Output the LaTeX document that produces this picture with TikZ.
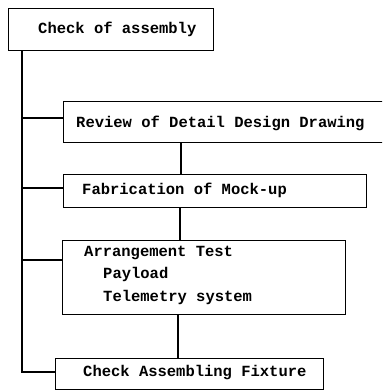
\documentclass[tikz,border=0pt]{standalone}
\usepackage{fontspec}
\setmonofont{Liberation Mono}
\begin{document}
\begin{tikzpicture}[x=1pt,y=-1pt,
  box/.style={draw,line width=1.1pt,rectangle,inner sep=0pt,anchor=north west},
  lbl/.style={font=\ttfamily\bfseries\fontsize{15.5}{22.5}\selectfont,inner sep=0pt,anchor=west},
  conn/.style={line width=1.1pt}]
\useasboundingbox (0,0) rectangle (382,390);
\clip (0,0) rectangle (382,390);
% boxes
\node[box,minimum width=205pt,minimum height=42pt] (b1) at (8,8) {};
\node[box,minimum width=347pt,minimum height=41pt] (b2) at (63,101) {};
\node[box,minimum width=303pt,minimum height=33pt] (b3) at (63,174) {};
\node[box,minimum width=283pt,minimum height=74pt] (b4) at (62,240) {};
\node[box,minimum width=268pt,minimum height=31pt] (b5) at (55,358) {};
% texts
\node[lbl] (t1) at (38,29) {Check of assembly};
\node[lbl] (t2) at (76,123) {Review of Detail Design Drawing};
\node[lbl,anchor=north west,align=left] (t4) at (84,245.5) {Arrangement Test\\\hspace*{19pt}Payload\\\hspace*{19pt}Telemetry system};
\node[lbl] (t3) at (82,190) {Fabrication of Mock-up};
\node[lbl] (t5) at (83,373) {Check Assembling Fixture};
% spine and branches
\coordinate (sp) at (22,0);
\coordinate (j2) at (22,118);
\coordinate (j3) at (22,188);
\coordinate (j4) at (22,260);
\coordinate (j5) at (22,372);
\draw[conn] (sp |- b1.south) -- (j5) -- (j5 -| b5.west);
\draw[conn] (j2) -- (j2 -| b2.west);
\draw[conn] (j3) -- (j3 -| b3.west);
\draw[conn] (j4) -- (j4 -| b4.west);
% vertical links
\coordinate (v23) at (181,0);
\coordinate (v34) at (180,0);
\coordinate (v45) at (178,0);
\draw[conn] (v23 |- b2.south) -- (v23 |- b3.north);
\draw[conn] (v34 |- b3.south) -- (v34 |- b4.north);
\draw[conn] (v45 |- b4.south) -- (v45 |- b5.north);
\end{tikzpicture}
\end{document}
